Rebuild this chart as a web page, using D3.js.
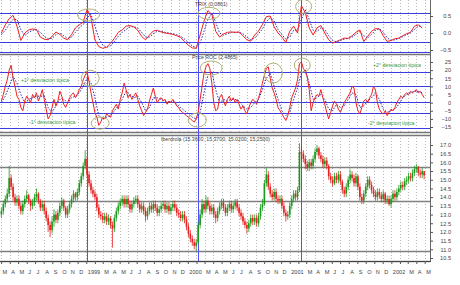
<!DOCTYPE html>
<html lang="es">
<head>
<meta charset="UTF-8">
<title>Iberdrola TRIX / Price ROC</title>
<script src="https://d3js.org/d3.v7.min.js"></script>
<style>
  body, html { margin: 0; padding: 0; background: #fff; overflow: hidden; }
  svg { display: block; font-family: "Liberation Sans", Arial, sans-serif; }
</style>
</head>
<body>
<svg id="chart" width="460" height="285"></svg>
<script>
// --- datos semanales (lunes) desde 2-mar-1998 ---
var firstWeek = new Date(1998, 2, 2);

// cierres semanales Iberdrola
var closes = [
  13.2, 13.6, 13.9, 14.2,
  15.1, 14.6, 14.0, 13.7, 13.9,
  13.5, 13.2, 13.6, 13.9,
  14.1, 13.8, 13.5, 13.7,
  14.0, 14.2, 13.8, 13.4, 13.6,
  13.2, 12.8, 12.4, 12.1,
  12.6, 13.0, 12.7, 13.1,
  13.5, 13.8, 13.4, 13.0, 13.3,
  13.6, 13.9, 14.2, 14.0,
  14.3, 14.8, 15.2, 15.8,
  16.2, 15.3, 14.8, 14.4, 14.2,
  14.0, 13.4, 13.0, 12.9,
  12.7, 12.9, 12.6, 12.8,
  12.4, 12.2, 12.8, 13.2, 13.5,
  13.7, 13.9, 13.6, 13.9,
  13.6, 13.3, 13.6, 13.8,
  13.9, 13.6, 13.3, 13.5,
  13.2, 12.9, 13.2, 13.5, 13.3,
  13.6, 13.4, 13.1, 13.3,
  13.5, 13.6, 13.3, 13.5,
  13.2, 13.4, 13.6, 13.4, 13.1,
  13.0, 12.8, 13.0, 12.7,
  12.3, 11.9, 11.6, 11.4, 11.2,
  11.4, 12.4, 13.0, 13.6,
  13.3, 13.8, 13.5, 13.2,
  13.4, 13.0, 12.8, 13.2, 13.5,
  13.7, 13.4, 13.1, 13.4,
  13.6, 13.3, 13.5, 13.7,
  13.4, 13.1, 12.9, 12.6, 12.4,
  12.2, 12.5, 12.8, 12.6,
  12.8, 12.5, 12.9, 13.4,
  13.6, 14.8, 15.3, 14.6, 14.2,
  14.0, 14.3, 13.9, 13.8,
  13.9, 13.5, 13.1, 12.9,
  13.0, 13.5, 13.9, 14.2, 14.0,
  14.4, 16.6, 16.5, 16.2,
  15.9, 15.7, 16.0, 15.8,
  16.2, 16.6, 16.8, 16.4, 16.2,
  15.9, 16.1, 15.8, 15.2,
  15.0, 14.8, 15.2, 15.0,
  15.3, 14.9, 14.4, 14.2, 14.6,
  15.0, 15.3, 15.1, 14.8,
  15.2, 14.6, 14.0, 13.8,
  14.2, 14.6, 15.0, 14.7, 14.4,
  14.2, 14.0, 14.3, 14.1,
  13.9, 14.2, 13.8, 13.9,
  13.6, 13.9, 14.2, 14.0, 14.3,
  14.5, 14.7, 14.6, 14.9,
  15.0, 15.2, 15.1, 15.4,
  15.6, 15.7, 15.4, 15.3, 15.5,
  15.25
];
var firstOpen = 13.0;

var highs = [
  13.4, 13.8, 14.1, 14.5,
  15.8, 15.3, 14.8, 14.2, 14.1,
  14.1, 13.7, 13.8, 14.1,
  14.4, 14.2, 13.9, 13.9,
  14.2, 14.5, 14.3, 13.9, 13.8,
  13.8, 13.4, 13.0, 12.6,
  12.9, 13.3, 13.2, 13.3,
  13.7, 14.0, 13.9, 13.5, 13.5,
  13.8, 14.1, 14.4, 14.3,
  14.5, 15.0, 15.4, 16.0,
  16.7, 16.3, 15.5, 15.0, 14.6,
  14.4, 14.2, 13.6, 13.2,
  13.1, 13.1, 13.1, 13.0,
  12.9, 12.6, 13.0, 13.4, 13.7,
  13.9, 14.1, 14.1, 14.1,
  14.1, 13.8, 13.8, 14.0,
  14.1, 14.1, 13.8, 13.7,
  13.7, 13.4, 13.4, 13.7, 13.7,
  13.8, 13.8, 13.6, 13.5,
  13.7, 13.8, 13.8, 13.7,
  13.7, 13.6, 13.8, 13.8, 13.6,
  13.3, 13.2, 13.2, 13.2,
  12.9, 12.5, 12.1, 11.8, 11.6,
  11.6, 12.6, 13.3, 13.9,
  13.8, 14.1, 14.0, 13.7,
  13.6, 13.6, 13.2, 13.4, 13.7,
  13.9, 13.9, 13.6, 13.6,
  13.8, 13.8, 13.7, 13.9,
  13.9, 13.6, 13.3, 13.1, 12.8,
  12.6, 12.7, 13.0, 13.0,
  13.0, 13.0, 13.1, 13.6,
  13.9, 15.0, 15.7, 15.5, 14.8,
  14.4, 14.5, 14.5, 14.1,
  14.1, 14.1, 13.7, 13.3,
  13.2, 13.7, 14.1, 14.4, 14.4,
  14.6, 17.1, 16.9, 16.7,
  16.4, 16.1, 16.2, 16.2,
  16.4, 16.8, 17.0, 16.9, 16.6,
  16.4, 16.3, 16.3, 15.9,
  15.4, 15.2, 15.4, 15.4,
  15.5, 15.5, 15.0, 14.6, 14.8,
  15.2, 15.6, 15.5, 15.3,
  15.4, 15.3, 14.8, 14.2,
  14.4, 14.8, 15.2, 15.2, 14.9,
  14.6, 14.4, 14.5, 14.5,
  14.3, 14.4, 14.3, 14.1,
  14.1, 14.1, 14.4, 14.4, 14.5,
  14.7, 14.9, 14.9, 15.1,
  15.2, 15.4, 15.4, 15.6,
  15.8, 15.9, 15.8, 15.6, 15.7,
  15.37
];

var lows = [
  12.8, 13.0, 13.4, 13.7,
  14.0, 14.4, 13.8, 13.5, 13.5,
  13.3, 13.0, 13.0, 13.4,
  13.7, 13.6, 13.2, 13.3,
  13.5, 13.8, 13.6, 13.2, 13.2,
  13.0, 12.6, 12.0, 11.7,
  11.9, 12.3, 12.5, 12.5,
  12.9, 13.3, 13.2, 12.8, 12.8,
  13.1, 13.4, 13.7, 13.8,
  13.8, 14.1, 14.6, 15.0,
  15.6, 15.1, 14.6, 14.2, 14.0,
  13.8, 13.2, 12.8, 12.7,
  12.5, 12.5, 12.4, 12.4,
  12.2, 11.1, 12.0, 12.6, 13.0,
  13.3, 13.5, 13.4, 13.4,
  13.4, 13.1, 13.1, 13.4,
  13.6, 13.4, 13.1, 13.1,
  13.0, 12.6, 12.7, 13.0, 13.1,
  13.1, 13.2, 12.9, 12.9,
  13.1, 13.3, 13.1, 13.1,
  13.0, 13.0, 13.2, 13.2, 12.9,
  12.8, 12.6, 12.6, 12.5,
  12.1, 11.7, 11.4, 11.2, 11.0,
  10.9, 11.3, 12.2, 12.8,
  13.1, 13.1, 13.3, 13.0,
  13.0, 12.8, 12.5, 12.6, 13.0,
  13.3, 13.2, 12.9, 12.9,
  13.2, 13.1, 13.1, 13.3,
  13.2, 12.9, 12.7, 12.4, 12.2,
  11.9, 12.0, 12.3, 12.4,
  12.4, 12.3, 12.3, 12.7,
  13.2, 13.5, 14.6, 14.4, 14.0,
  13.8, 13.8, 13.7, 13.6,
  13.6, 13.3, 12.9, 12.6,
  12.7, 12.8, 13.3, 13.7, 13.8,
  13.8, 14.3, 16.1, 16.0,
  15.6, 15.5, 15.5, 15.6,
  15.6, 16.0, 16.4, 16.2, 16.0,
  15.7, 15.7, 15.6, 15.0,
  14.8, 14.6, 14.7, 14.8,
  14.8, 14.7, 14.2, 14.0, 14.0,
  14.4, 14.8, 14.9, 14.6,
  14.6, 14.4, 13.8, 13.6,
  13.6, 14.0, 14.4, 14.5, 14.2,
  14.0, 13.8, 13.8, 13.9,
  13.7, 13.7, 13.6, 13.6,
  13.5, 13.4, 13.7, 13.8, 13.8,
  14.1, 14.3, 14.4, 14.4,
  14.7, 14.8, 14.9, 14.9,
  15.2, 15.4, 15.2, 15.1, 15.1,
  15.02
];

// Price ROC semanal
var roc = [
  1, 5, 10, 14, 20, 23, 15, 10, 4, 2,
  -3, -5, 1, 4, 2, 0, 5, 3, 6, 1,
  4, 8, 2, -4, -10, -8, -3, 2, -2, 1,
  7, 4, -1, -3, 0, 3, 5, 6, 3, 5,
  8, 10, 14, 17, 19, 13, 6, 0, -6, -9,
  -14, -12, -9, -10, -7, -8, -9, -5, -3, -1,
  -4, 2, 6, 12, 8, 3, 5, 2, 4, 6,
  2, -2, -5, -8, -6, -4, 1, 5, 9, 4,
  0, 2, 3, 1, 2, -1, 1, 0, 2, 0,
  -2, -3, -5, -6, -7, -8, -9, -10, -11, -12,
  -10, -6, 2, 10, 18, 22, 24, 21, 12, 0,
  -5, -4, 3, 5, 1, -2, 2, 4, 1, 3,
  0, 2, -1, -4, -2, -5, -7, -3, 0, 2,
  1, -1, 3, 7, 12, 17, 21, 22, 15, 9,
  6, 2, -3, -5, -7, -9, -11, -8, -3, 3,
  6, 9, 14, 24, 25, 21, 19, 16, 8, -5,
  0, 3, 5, 4, 8, 3, -1, -6, -10, -6,
  -2, 1, -1, -4, -6, -3, 0, 2, 4, 6,
  10, 9, 0, -5, -7, -3, 1, 2, 0, 3,
  5, 10, 8, 0, -4, -6, -7, -5, -8, -6,
  -4, -5, -3, 0, 2, 4, 3, 5, 6, 5,
  7, 6, 7, 8, 6, 7, 5, 3
];

// media del ROC (quincenal, linea punteada azul)
var rocAvg = [
  0, 4, 10, 16, 12, 5, 0, 2, 3, 4,
  4, 4, -3, -6, -2, 2, 2, 0, 3, 4,
  6, 10, 15, 12, 3, -8, -10, -9, -8, -5,
  -2, 2, 7, 5, 3, 4, 0, -5, -3, 3,
  3, 2, 1, 0, 1, -1, -3, -5, -7, -9,
  -10, -6, 6, 17, 19, 8, 0, 2, 1, 2,
  2, 1, -2, -4, -3, 0, 2, 8, 15, 18,
  10, 2, -5, -8, -6, 2, 9, 18, 20, 12,
  2, 3, 5, 2, -4, -5, -1, -3, -2, 2,
  6, 5, -3, -2, 1, 3, 6, 2, -4, -6,
  -5, -4, -1, 3, 5, 6, 7, 7, 6
];

// TRIX (quincenal)
var trix = [
  0.0, 0.24, 0.42, 0.52, 0.2, -0.22, 0.0, 0.09, 0.12, 0.1,
  -0.12, -0.18, -0.2, -0.1, 0.03, -0.04, -0.15, -0.2, -0.05, 0.15,
  0.24, 0.32, 0.7, 0.45, -0.2, -0.4, -0.45, -0.42, -0.3, -0.16,
  0.02, 0.09, 0.2, 0.22, 0.18, 0.08, -0.1, -0.2, -0.06, 0.06,
  0.08, 0.03, 0.0, -0.02, -0.04, -0.08, -0.13, -0.25, -0.36, -0.44,
  -0.45, -0.06, 0.35, 0.66, 0.55, 0.05, -0.12, -0.03, 0.02, 0.03,
  0.02, 0.03, -0.08, -0.2, -0.24, -0.06, 0.06, 0.25, 0.48, 0.5,
  0.18, 0.0, -0.12, -0.28, 0.05, 0.2, 0.0, 0.8, 0.6, 0.15,
  -0.06, 0.15, 0.22, 0.0, -0.2, -0.3, -0.25, -0.2, -0.15, -0.16,
  -0.08, 0.02, 0.09, -0.25, -0.1, 0.05, 0.13, 0.12, -0.08, -0.25,
  -0.22, -0.17, -0.15, -0.08, -0.02, 0.02, 0.2, 0.24, 0.15
];

var trixSignal = [
  -0.05, 0.08, 0.25, 0.4, 0.4, 0.1, -0.08, 0.02, 0.08, 0.1,
  0.02, -0.1, -0.17, -0.16, -0.05, 0.0, -0.08, -0.16, -0.12, 0.02,
  0.15, 0.25, 0.45, 0.55, 0.2, -0.15, -0.35, -0.42, -0.38, -0.25,
  -0.1, 0.02, 0.1, 0.18, 0.19, 0.14, 0.02, -0.12, -0.12, -0.02,
  0.05, 0.05, 0.02, 0.0, -0.02, -0.05, -0.1, -0.18, -0.28, -0.38,
  -0.43, -0.3, 0.05, 0.4, 0.58, 0.32, 0.0, -0.06, -0.02, 0.02,
  0.02, 0.02, -0.02, -0.12, -0.2, -0.15, -0.02, 0.12, 0.33, 0.45,
  0.35, 0.1, -0.05, -0.18, -0.12, 0.08, 0.08, 0.4, 0.68, 0.4,
  0.08, 0.05, 0.15, 0.1, -0.08, -0.22, -0.26, -0.22, -0.18, -0.16,
  -0.12, -0.04, 0.04, -0.08, -0.15, -0.04, 0.08, 0.12, 0.03, -0.14,
  -0.22, -0.2, -0.16, -0.11, -0.05, 0.0, 0.1, 0.2, 0.2
];

// lineas de referencia
var trixBands = [0.59, 0.32, -0.26, -0.56];
var rocBands = [18.8, 10.2, 0.4, -6.4, -15.6];
var priceLevels = [15.75, 13.8, 10.9];
var markDates = [new Date(1999, 0, 4), new Date(2000, 1, 7), new Date(2001, 1, 12)];

var trixTicks = [0.5, 0.0, -0.5];
var rocTicks = [25, 20, 15, 10, 5, 0, -5, -10, -15];
var priceTicks = [17.0, 16.5, 16.0, 15.5, 15.0, 14.5, 14.0, 13.5, 13.0, 12.5, 12.0, 11.5, 11.0, 10.5];

var monthLetters = ["E", "F", "M", "A", "M", "J", "J", "A", "S", "O", "N", "D"];

// elipses: fecha, valor, radio x, radio y
var trixCircles = [
  [new Date(1999, 0, 9), 0.53, 11, 6],
  [new Date(2000, 2, 17), 0.58, 11, 6],
  [new Date(2001, 1, 20), 0.78, 8, 7]
];
var rocCircles = [
  [new Date(1999, 0, 15), 15, 9, 8],
  [new Date(1999, 1, 20), -12.6, 9, 6],
  [new Date(2000, 1, 4), -10.7, 9, 7],
  [new Date(2000, 2, 25), 21.3, 11, 7],
  [new Date(2000, 10, 3), 18.2, 9, 10],
  [new Date(2001, 1, 15), 23.1, 8, 7]
];

var notes = [
  { text: "+1\u00b0 desviacion t\u00edpica", x: 21, y: 82 },
  { text: "-1\u00b0 desviacion t\u00edpica", x: 29, y: 124 },
  { text: "+2\u00b0 desviacion t\u00edpica", x: 373, y: 67 },
  { text: "-2\u00b0 desviacion t\u00edpica", x: 368, y: 125 }
];

// ---------- dibujo ----------
var svg = d3.select("#chart");
var W = 430;

var x = d3.scaleTime()
    .domain([new Date(1998, 1, 25), new Date(2002, 4, 20)])
    .range([0, W]);

var weeks = closes.map(function (d, i) { return d3.timeWeek.offset(firstWeek, i); });
var fortnights = trix.map(function (d, i) { return d3.timeWeek.offset(firstWeek, i * 2); });

var yT = d3.scaleLinear().domain([-0.5, 0.5]).range([50, 16]);
var yR = d3.scaleLinear().domain([-15, 25]).range([127, 62]);
var yP = d3.scaleLinear().domain([10.5, 17]).range([258, 145]);

var panels = [
  { top: 0, bottom: 54 },
  { top: 56, bottom: 132 },
  { top: 135, bottom: 261 }
];

// rejilla vertical punteada por mes
var months = d3.timeMonth.range(new Date(1998, 2, 1), new Date(2002, 5, 1));
panels.forEach(function (p) {
  svg.append("g").selectAll("line").data(months).join("line")
    .attr("x1", function (d) { return Math.round(x(d)) + 0.5; })
    .attr("x2", function (d) { return Math.round(x(d)) + 0.5; })
    .attr("y1", p.top).attr("y2", p.bottom)
    .attr("stroke", "#b8b8b8").attr("stroke-dasharray", "1,2");
});

// bordes de paneles
panels.forEach(function (p) {
  svg.append("line").attr("x1", 0).attr("x2", W).attr("y1", p.bottom + 0.5).attr("y2", p.bottom + 0.5)
    .attr("stroke", "#777").attr("stroke-width", 1.5);
});
svg.append("line").attr("x1", 0).attr("x2", W).attr("y1", 135.5).attr("y2", 135.5)
  .attr("stroke", "#777").attr("stroke-width", 1.5);

// lineas azules horizontales
svg.append("g").selectAll("line").data(trixBands).join("line")
  .attr("x1", 0).attr("x2", W)
  .attr("y1", function (d) { return Math.round(yT(d)) + 0.5; })
  .attr("y2", function (d) { return Math.round(yT(d)) + 0.5; })
  .attr("stroke", "#3c3ce6").attr("stroke-width", 1.2);
svg.append("g").selectAll("line").data(rocBands).join("line")
  .attr("x1", 0).attr("x2", W)
  .attr("y1", function (d) { return Math.round(yR(d)) + 0.5; })
  .attr("y2", function (d) { return Math.round(yR(d)) + 0.5; })
  .attr("stroke", "#3c3ce6").attr("stroke-width", 1.2);
svg.append("g").selectAll("line").data(priceLevels).join("line")
  .attr("x1", 0).attr("x2", W)
  .attr("y1", function (d) { return Math.round(yP(d)) + 0.5; })
  .attr("y2", function (d) { return Math.round(yP(d)) + 0.5; })
  .attr("stroke", "#808080").attr("stroke-width", 1.5);

// lineas verticales azules
svg.append("g").selectAll("line").data(markDates).join("line")
  .attr("x1", function (d) { return Math.round(x(d)) + 0.5; })
  .attr("x2", function (d) { return Math.round(x(d)) + 0.5; })
  .attr("y1", 0).attr("y2", 261)
  .attr("stroke", "#5050ff").attr("stroke-width", 1);

// TRIX
var lineT = d3.line().x(function (d, i) { return x(fortnights[i]); }).y(function (d) { return yT(d); });
svg.append("path").datum(trixSignal).attr("d", lineT)
  .attr("fill", "none").attr("stroke", "#2a2ab8").attr("stroke-width", 1).attr("stroke-dasharray", "1.5,1.5");
svg.append("path").datum(trix).attr("d", lineT)
  .attr("fill", "none").attr("stroke", "#f02020").attr("stroke-width", 1);

// Price ROC
var lineRA = d3.line().x(function (d, i) { return x(fortnights[i]); }).y(function (d) { return yR(d); });
var lineR = d3.line().x(function (d, i) { return x(weeks[i]); }).y(function (d) { return yR(d); });
svg.append("path").datum(rocAvg).attr("d", lineRA)
  .attr("fill", "none").attr("stroke", "#2a2ab8").attr("stroke-width", 1).attr("stroke-dasharray", "1.5,1.5");
svg.append("path").datum(roc).attr("d", lineR)
  .attr("fill", "none").attr("stroke", "#f02020").attr("stroke-width", 1);

// velas de precio
var bars = closes.map(function (c, i) {
  return { date: weeks[i], open: i === 0 ? firstOpen : closes[i - 1], close: c, high: highs[i], low: lows[i] };
});
var g = svg.append("g");
g.selectAll("line").data(bars).join("line")
  .attr("x1", function (d) { return x(d.date); })
  .attr("x2", function (d) { return x(d.date); })
  .attr("y1", function (d) { return yP(d.high); })
  .attr("y2", function (d) { return yP(d.low); })
  .attr("stroke", function (d) { return d.close >= d.open ? "#1a9a1a" : "#e82020"; })
  .attr("stroke-width", 0.8);
g.selectAll("rect").data(bars).join("rect")
  .attr("x", function (d) { return x(d.date) - 0.8; })
  .attr("width", 1.6)
  .attr("y", function (d) { return yP(Math.max(d.open, d.close)); })
  .attr("height", function (d) { return Math.max(0.8, Math.abs(yP(d.open) - yP(d.close))); })
  .attr("fill", function (d) { return d.close >= d.open ? "#1a9a1a" : "#e82020"; });

// elipses
svg.append("g").selectAll("ellipse").data(trixCircles).join("ellipse")
  .attr("cx", function (d) { return x(d[0]); }).attr("cy", function (d) { return yT(d[1]); })
  .attr("rx", function (d) { return d[2]; }).attr("ry", function (d) { return d[3]; })
  .attr("fill", "none").attr("stroke", "#b0b070").attr("stroke-width", 1);
svg.append("g").selectAll("ellipse").data(rocCircles).join("ellipse")
  .attr("cx", function (d) { return x(d[0]); }).attr("cy", function (d) { return yR(d[1]); })
  .attr("rx", function (d) { return d[2]; }).attr("ry", function (d) { return d[3]; })
  .attr("fill", "none").attr("stroke", "#b0b070").attr("stroke-width", 1);

// notas verdes
svg.append("g").selectAll("text").data(notes).join("text")
  .attr("x", function (d) { return d.x; }).attr("y", function (d) { return d.y; })
  .attr("font-size", 5.2).attr("fill", "#3a9a3a")
  .text(function (d) { return d.text; });

// titulos
svg.append("text").attr("x", 195).attr("y", 6).attr("font-size", 5.2).attr("fill", "#444").text("TRIX (0.0861)");
svg.append("text").attr("x", 192).attr("y", 59).attr("font-size", 5.2).attr("fill", "#444").text("Price ROC (2.4865)");
svg.append("text").attr("x", 161).attr("y", 141).attr("font-size", 5.2).attr("fill", "#444")
  .text("Iberdrola (15.3600, 15.3700, 15.0200, 15.2500)");

// eje derecho
svg.append("line").attr("x1", W + 0.5).attr("x2", W + 0.5).attr("y1", 0).attr("y2", 262)
  .attr("stroke", "#666").attr("stroke-width", 1);
svg.append("g").attr("transform", "translate(" + W + ",0)")
  .call(d3.axisRight(yT).tickValues(trixTicks).tickFormat(d3.format(".1f")).tickSize(3))
  .call(styleAxis);
svg.append("g").attr("transform", "translate(" + W + ",0)")
  .call(d3.axisRight(yR).tickValues(rocTicks).tickFormat(d3.format("d")).tickSize(3))
  .call(styleAxis);
svg.append("g").attr("transform", "translate(" + W + ",0)")
  .call(d3.axisRight(yP).tickValues(priceTicks).tickFormat(d3.format(".1f")).tickSize(3))
  .call(styleAxis);

function styleAxis(sel) {
  sel.select(".domain").remove();
  sel.selectAll("line").attr("stroke", "#555");
  sel.selectAll("text").attr("x", 21).attr("text-anchor", "end")
    .attr("font-size", 5.6).attr("fill", "#444").attr("font-family", "Liberation Sans, Arial, sans-serif");
}

// eje de fechas
svg.append("line").attr("x1", 0).attr("x2", W + 1).attr("y1", 261.5).attr("y2", 261.5)
  .attr("stroke", "#444").attr("stroke-width", 1);
var xAxis = svg.append("g").attr("transform", "translate(0,261)")
  .call(d3.axisBottom(x).tickValues(months).tickSize(3).tickFormat(function (d) {
    var m = d.getMonth();
    if (m === 1) return "";
    if (m === 0) return String(d.getFullYear());
    return monthLetters[m];
  }));
xAxis.select(".domain").remove();
xAxis.selectAll("line").attr("stroke", "#555");
xAxis.selectAll("text").attr("text-anchor", "start").attr("dx", 1).attr("y", 9)
  .attr("font-size", 5.6).attr("fill", "#444");
</script>
</body>
</html>
